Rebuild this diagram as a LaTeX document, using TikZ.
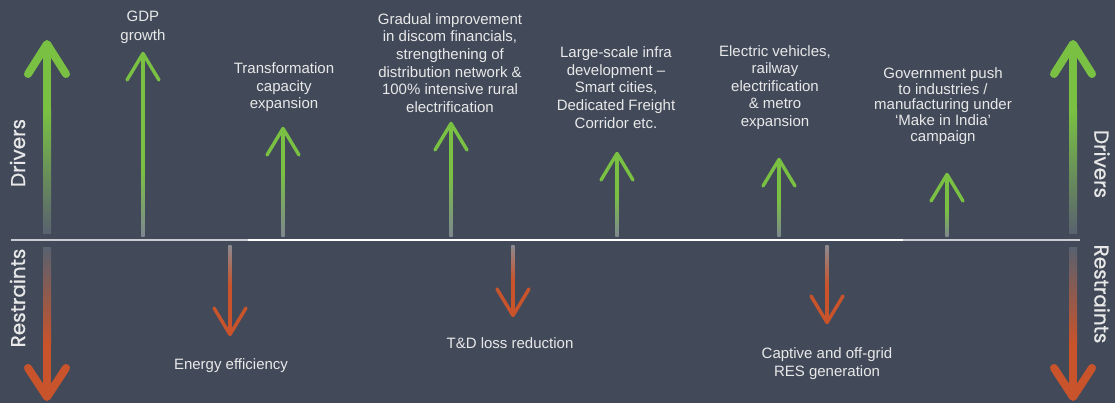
\documentclass[tikz,border=0pt]{standalone}
\usepackage{fontspec}
\setmainfont{Liberation Sans}
\newfontfamily\sidefont[FakeBold=0.8]{Poppins}
\usetikzlibrary{calc}
\definecolor{bg}{HTML}{424A5A}
\definecolor{grn}{HTML}{7AC143}
\definecolor{org}{HTML}{C9532A}
\definecolor{txt}{HTML}{E8E8E8}
\definecolor{fadeg}{HTML}{7E8690}
\definecolor{fadeo}{HTML}{8C8A92}
\definecolor{bigfade}{HTML}{59616F}
\definecolor{linegray}{HTML}{C9CDD3}
\tikzset{
  headG/.style={draw=grn, line width=3.4pt, line cap=round, line join=round},
  headO/.style={draw=org, line width=3.4pt, line cap=round, line join=round},
  bigheadG/.style={draw=grn, line width=8pt, line cap=round, line join=round},
  bigheadO/.style={draw=org, line width=8pt, line cap=round, line join=round},
  lbl/.style={text=txt, align=center, font=\fontsize{15}{17.6}\selectfont, inner sep=0pt},
  sidelbl/.style={text=txt, font=\sidefont\fontsize{20}{22}\selectfont, inner sep=0pt},
}
\newcommand\drvArrow[4]{%
  \coordinate (#1-tip) at (#2,#3);
  \coordinate (#1-base) at (#2,237);
  \fill[grn] ({#2-1.7},{#3+3}) rectangle ({#2+1.7},#4);
  \shade[top color=grn,bottom color=fadeg] ({#2-1.7},#4) rectangle ({#2+1.7},237);
  \draw[headG] ($(#1-tip)+(-16,28)$) -- ($(#1-tip)+(0,1.5)$) -- ($(#1-tip)+(16,28)$);
}
\newcommand\rstArrow[4]{%
  \coordinate (#1-top) at (#2,245);
  \coordinate (#1-tip) at (#2,#3);
  \shade[top color=fadeo,bottom color=org] ({#2-1.7},245) rectangle ({#2+1.7},#4);
  \fill[org] ({#2-1.7},#4) rectangle ({#2+1.7},{#3-3});
  \draw[headO] ($(#1-tip)+(-16,-28)$) -- ($(#1-tip)+(0,-1.5)$) -- ($(#1-tip)+(16,-28)$);
}
\newcommand\bigArrows[2]{%
  \coordinate (#1-top) at (#2,44);
  \coordinate (#1-bot) at (#2,397);
  \fill[grn] ({#2-4},46) rectangle ({#2+4},110);
  \shade[top color=grn,bottom color=bigfade] ({#2-4},110) rectangle ({#2+4},234);
  \draw[bigheadG] ($(#1-top)+(-19,30)$) -- (#1-top) -- ($(#1-top)+(19,30)$);
  \shade[top color=bigfade,bottom color=org] ({#2-4},247) rectangle ({#2+4},345);
  \fill[org] ({#2-4},345) rectangle ({#2+4},395);
  \draw[bigheadO] ($(#1-bot)+(-19,-29)$) -- (#1-bot) -- ($(#1-bot)+(19,-29)$);
}
\begin{document}
\begin{tikzpicture}[x=1pt,y=-1pt]
\fill[bg] (0,0) rectangle (1115,403);
\useasboundingbox (0,0) rectangle (1115,403);
% baseline
\coordinate (l0) at (11,240);
\coordinate (l1) at (248,240);
\coordinate (l2) at (903,240);
\coordinate (l3) at (1080,240);
\draw[linegray, line width=2pt] (l0) -- (l1);
\draw[white, line width=2pt] (l1) -- (l2);
\draw[linegray, line width=2pt] (l2) -- (l3);
% big side arrows
\bigArrows{L}{47}
\bigArrows{R}{1073}
% side labels
\node[sidelbl, rotate=90] (drvL) at (17.5,153) {Drivers};
\node[sidelbl, rotate=90] (rstL) at (17.5,298) {Restraints};
\node[sidelbl, rotate=-90] (drvR) at (1102,164) {Drivers};
\node[sidelbl, rotate=-90] (rstR) at (1102,294) {Restraints};
% drivers
\drvArrow{gdp}{143}{52}{170}
\drvArrow{trans}{283}{127}{172}
\drvArrow{disc}{451}{122}{175}
\drvArrow{infra}{617}{152}{195}
\drvArrow{ev}{779}{158}{200}
\drvArrow{govt}{947}{173}{210}
\node[lbl, font=\fontsize{15}{19}\selectfont] (gdpT) at (143,27.5) {GDP\\growth};
\node[lbl] (transT) at (284,87.5) {Transformation\\capacity\\expansion};
\node[lbl] (discT) at (450,63) {Gradual improvement\\in discom financials,\\strengthening of\\distribution network \&\\100\% intensive rural\\electrification};
\node[lbl] (infraT) at (616,87.5) {Large-scale infra\\development –\\Smart cities,\\Dedicated Freight\\Corridor etc.};
\node[lbl] (evT) at (775,87.5) {Electric vehicles,\\railway\\electrification\\\& metro\\expansion};
\node[lbl, font=\fontsize{15}{15.6}\selectfont] (govtT) at (943,106) {Government push\\to industries /\\manufacturing under\\‘Make in India’\\campaign};
% restraints
\rstArrow{eff}{230}{336}{285}
\rstArrow{td}{513}{317}{280}
\rstArrow{res}{827}{324}{285}
\node[lbl] (effT) at (231,366) {Energy efficiency};
\node[lbl] (tdT) at (510,343) {T\&D loss reduction};
\node[lbl] (resT) at (827,363.5) {Captive and off-grid\\RES generation};
\end{tikzpicture}
\end{document}
